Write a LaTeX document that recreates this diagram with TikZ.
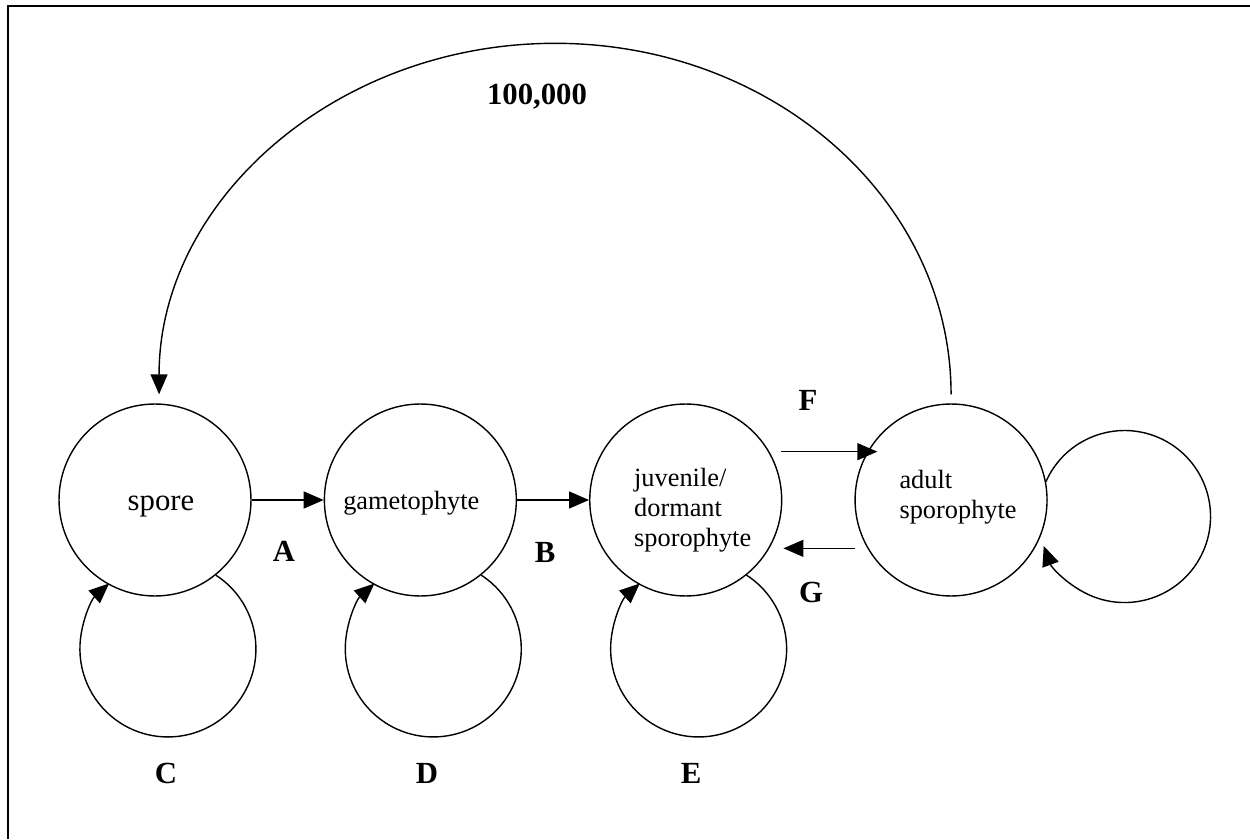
\documentclass[tikz,border=0pt]{standalone}
\usepackage{fontspec}
\setmainfont{Liberation Serif}
\usetikzlibrary{positioning,arrows.meta}

\begin{document}
\begin{tikzpicture}[
  x=0.02cm, y=0.02cm,
  node distance=1.44cm,
  stage/.style={circle, draw, line width=0.8pt, minimum size=3.84cm, inner sep=0pt},
  txt/.style={align=left, inner sep=0pt, font=\fontsize{15}{17.2}\selectfont},
  arr/.style={-{Triangle[length=0.4cm, width=0.34cm]}, line width=0.8pt},
  lbl/.style={font=\fontsize{17.5}{20}\selectfont\bfseries, inner sep=0pt},
]
  \useasboundingbox (0,0) rectangle (1250,839);
  \draw[line width=1.5pt] (8,0) -- (8,833) -- (1250,833);

  % Nodes
  \node[stage] (sp) at (155,339) {};
  \node[stage, right=of sp] (ga) {};
  \node[stage, right=of ga] (ju) {};
  \node[stage, right=of ju] (ad) {};

  \node[txt, font=\fontsize{17.5}{20}\selectfont] (sp-t)
    at ([xshift=0.12cm, yshift=-0.14cm]sp.center) {spore};
  \node[txt] (ga-t) at ([xshift=-0.18cm, yshift=-0.06cm]ga.center) {gametophyte};
  \node[txt] (ju-t) at ([xshift=0.14cm, yshift=-0.2cm]ju.center) {juvenile/\\dormant\\sporophyte};
  \node[txt] (ad-t) at ([xshift=0.14cm, yshift=0.06cm]ad.center) {adult\\sporophyte};

  % Transitions
  \draw[arr] (sp) -- (ga);
  \draw[arr] (ga) -- (ju);
  \draw[arr] ([xshift=0.24cm]ju.30) -- ([xshift=0.2cm]ad.150);
  \draw[arr] ([xshift=-0.24cm]ad.210) -- ([xshift=0.28cm]ju.-30);
  \draw[arr] ([yshift=0.18cm]ad.north)
    arc[start angle=0, end angle=180, x radius=396, y radius=351];

  % Stasis loops
  \foreach \n in {sp, ga, ju}
    \draw[arr] (\n.-51) arc[start angle=57, end angle=-228, radius=88];
  \draw[arr] (ad.11) arc[start angle=156, end angle=-160, radius=86];

  % Labels
  \node[lbl] (la) at (284,288) {A};
  \node[lbl] (lb) at (545,287) {B};
  \node[lbl] (lc) at (166,66) {C};
  \node[lbl] (ld) at (427,66) {D};
  \node[lbl] (le) at (691,66) {E};
  \node[lbl] (lf) at (808,439) {F};
  \node[lbl] (lg) at (811,247) {G};
  \node[lbl] (lt) at (537,742) {100,000};
\end{tikzpicture}
\end{document}
